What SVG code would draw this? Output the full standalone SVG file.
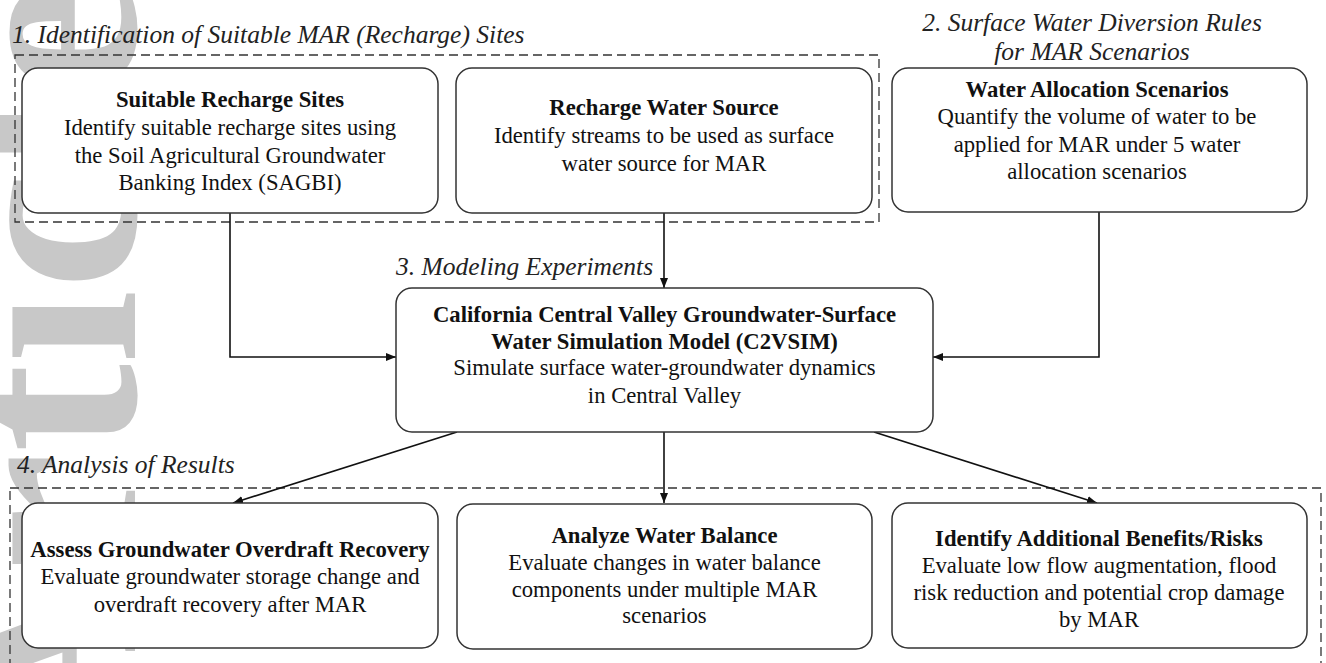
<svg xmlns="http://www.w3.org/2000/svg" width="1326" height="663" viewBox="0 0 1326 663">
  <defs>
    <marker id="arrow" viewBox="0 0 10 8" refX="10" refY="4" markerWidth="10" markerHeight="8" markerUnits="userSpaceOnUse" orient="auto">
      <path d="M0,0 L10,4 L0,8 z" fill="#111"/>
    </marker>
    <style>
      .wm { font-family: "Liberation Serif", "Times New Roman", serif; font-weight: bold; font-size: 267px; fill: #c8c8c8; }
      .box { fill: #fff; stroke: #333; stroke-width: 1.5; }
      .group { fill: none; stroke: #333; stroke-width: 1.3; stroke-dasharray: 9 5; }
      .head { font-family: "Liberation Serif", "Times New Roman", serif; font-style: italic; font-size: 25.5px; fill: #222; }
      .t { font-family: "Liberation Serif", "Times New Roman", serif; font-size: 22.7px; fill: #111; text-anchor: middle; }
      .b { font-weight: bold; }
      .conn { fill: none; stroke: #111; stroke-width: 1.6; }
    </style>
  </defs>

  <rect width="1326" height="663" fill="#fff"/>

  <!-- background watermark -->
  <text class="wm" transform="translate(135,764) rotate(-90)">Article</text>

  <!-- stage groups -->
  <g id="stage-groups">
    <rect class="group" x="15" y="55" width="864" height="167"/>
    <rect class="group" x="10" y="488" width="1311" height="200"/>
  </g>

  <!-- stage headings -->
  <g id="headings">
    <text class="head" x="12" y="43">1. Identification of Suitable MAR (Recharge) Sites</text>
    <text class="head" x="1092" y="31" text-anchor="middle">2. Surface Water Diversion Rules</text>
    <text class="head" x="1092" y="60" text-anchor="middle">for MAR Scenarios</text>
    <text class="head" x="396" y="275">3. Modeling Experiments</text>
    <text class="head" x="17" y="473">4. Analysis of Results</text>
  </g>

  <!-- connectors -->
  <g id="connectors">
    <path class="conn" d="M230,213 V357 H396" marker-end="url(#arrow)"/>
    <path class="conn" d="M664,213 V288" marker-end="url(#arrow)"/>
    <path class="conn" d="M1099,212 V357 H933" marker-end="url(#arrow)"/>
    <path class="conn" d="M457,432 L233,503" marker-end="url(#arrow)"/>
    <path class="conn" d="M664,432 V503" marker-end="url(#arrow)"/>
    <path class="conn" d="M874,432 L1097,503" marker-end="url(#arrow)"/>
  </g>

  <g id="suitable-sites">
    <rect class="box" x="22" y="68" width="416" height="145" rx="16"/>
    <text class="t b" x="230" y="107">Suitable Recharge Sites</text>
    <text class="t" x="230" y="135">Identify suitable recharge sites using</text>
    <text class="t" x="230" y="163">the Soil Agricultural Groundwater</text>
    <text class="t" x="230" y="190">Banking Index (SAGBI)</text>
  </g>

  <g id="water-source">
    <rect class="box" x="456" y="68" width="416" height="145" rx="16"/>
    <text class="t b" x="664" y="115">Recharge Water Source</text>
    <text class="t" x="664" y="143">Identify streams to be used as surface</text>
    <text class="t" x="664" y="171">water source for MAR</text>
  </g>

  <g id="allocation-scenarios">
    <rect class="box" x="892" y="68" width="415" height="144" rx="16"/>
    <text class="t b" x="1097" y="97">Water Allocation Scenarios</text>
    <text class="t" x="1097" y="124">Quantify the volume of water to be</text>
    <text class="t" x="1097" y="152">applied for MAR under 5 water</text>
    <text class="t" x="1097" y="179">allocation scenarios</text>
  </g>

  <g id="c2vsim-model">
    <rect class="box" x="396" y="288" width="537" height="144" rx="16"/>
    <text class="t b" x="664.5" y="322">California Central Valley Groundwater-Surface</text>
    <text class="t b" x="664.5" y="349">Water Simulation Model (C2VSIM)</text>
    <text class="t" x="664.5" y="375">Simulate surface water-groundwater dynamics</text>
    <text class="t" x="664.5" y="403">in Central Valley</text>
  </g>

  <g id="overdraft-recovery">
    <rect class="box" x="22" y="503" width="416" height="145" rx="16"/>
    <text class="t b" x="230" y="557">Assess Groundwater Overdraft Recovery</text>
    <text class="t" x="230" y="584">Evaluate groundwater storage change and</text>
    <text class="t" x="230" y="612">overdraft recovery after MAR</text>
  </g>

  <g id="water-balance">
    <rect class="box" x="457" y="504" width="415" height="145" rx="16"/>
    <text class="t b" x="664.5" y="543">Analyze Water Balance</text>
    <text class="t" x="664.5" y="570">Evaluate changes in water balance</text>
    <text class="t" x="664.5" y="597">components under multiple MAR</text>
    <text class="t" x="664.5" y="623">scenarios</text>
  </g>

  <g id="benefits-risks">
    <rect class="box" x="892" y="503" width="415" height="145" rx="16"/>
    <text class="t b" x="1099" y="546">Identify Additional Benefits/Risks</text>
    <text class="t" x="1099" y="573">Evaluate low flow augmentation, flood</text>
    <text class="t" x="1099" y="600">risk reduction and potential crop damage</text>
    <text class="t" x="1099" y="627">by MAR</text>
  </g>
</svg>
